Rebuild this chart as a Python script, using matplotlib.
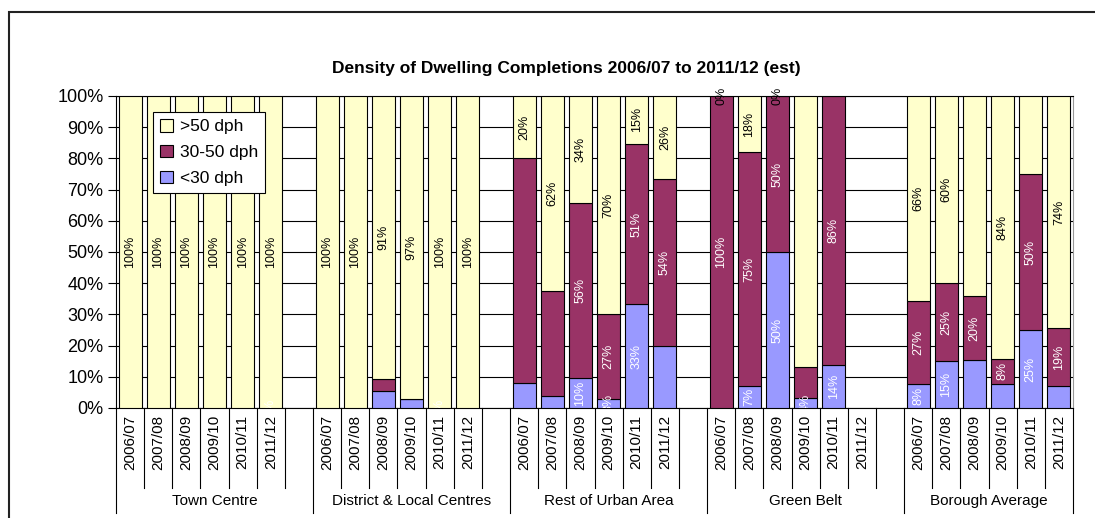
import matplotlib
matplotlib.use("Agg")
import matplotlib.pyplot as plt
import matplotlib.transforms as mtransforms
from matplotlib.patches import Rectangle, Patch

plt.rcParams['font.family'] = ['Liberation Sans', 'DejaVu Sans']

years = ["2006/07", "2007/08", "2008/09", "2009/10", "2010/11", "2011/12"]
groups = ["Town Centre", "District & Local Centres", "Rest of Urban Area",
          "Green Belt", "Borough Average"]

# <30 dph, 30-50 dph, >50 dph (percent), one row per group
lt30 = [
    [0, 0, 0, 0, 0, 0],
    [0, 0, 5.3, 3, 0, 0],
    [8.1, 3.7, 9.6, 3, 33.2, 19.8],
    [0, 7.1, 50, 3.3, 13.9, 0],
    [7.6, 15, 15.3, 7.8, 24.9, 6.9],
]
mid = [
    [0, 0, 0, 0, 0, 0],
    [0, 0, 3.9, 0, 0, 0],
    [72.1, 33.7, 56.1, 27.2, 51.5, 53.7],
    [100, 74.9, 50, 9.8, 86.1, 0],
    [26.7, 25, 20.5, 8, 50.2, 18.8],
]
gt50 = [
    [100, 100, 100, 100, 100, 100],
    [100, 100, 90.8, 97, 100, 100],
    [19.8, 62.6, 34.3, 69.8, 15.3, 26.5],
    [0, 18, 0, 86.9, 0, 0],
    [65.7, 60, 64.2, 84.2, 24.9, 74.3],
]

lab_lt30 = [
    ["", "", "", "", "", "0%"],
    ["", "", "", "", "0%", ""],
    ["", "", "10%", "3%", "33%", ""],
    ["", "7%", "50%", "4%", "14%", ""],
    ["8%", "15%", "", "", "25%", ""],
]
lab_mid = [
    ["", "", "", "", "", ""],
    ["", "", "", "", "", ""],
    ["", "", "56%", "27%", "51%", "54%"],
    ["100%", "75%", "50%", "", "86%", ""],
    ["27%", "25%", "20%", "8%", "50%", "19%"],
]
lab_gt50 = [
    ["100%"] * 6,
    ["100%", "100%", "91%", "97%", "100%", "100%"],
    ["20%", "62%", "34%", "70%", "15%", "26%"],
    ["0%", "18%", "0%", "", "", ""],
    ["66%", "60%", "", "84%", "", "74%"],
]

c_lt30 = "#9999FF"
c_mid = "#993366"
c_gt50 = "#FFFFCC"

W, H = 1095, 518
fig = plt.figure(figsize=(W / 100, H / 100), dpi=100)
ax = fig.add_axes([116 / W, 1 - 408 / H, (1073 - 116) / W, (408 - 96) / H])

# outer chart frame (clipped by the image edges)
fig.patches.append(Rectangle((9 / W, -0.1), 1.2, 1 - 12 / H + 0.1,
                             transform=fig.transFigure, fill=False,
                             ec="#222222", lw=1.5))
# clipped heading above the frame
fig.text(10 / W, 1 + 5 / H, "Density of Dwelling Housing", fontsize=18,
         fontweight="bold", va="baseline", ha="left")

fig.text(566 / W, 1 - 68 / H,
         "Density of Dwelling Completions 2006/07 to 2011/12 (est)",
         fontsize=12.5, fontweight="bold", ha="center", va="center")

bw = 0.82
centers = []
for g in range(len(groups)):
    for j in range(len(years)):
        x = 7 * g + j + 0.5
        centers.append(x)
        a, b, c = lt30[g][j], mid[g][j], gt50[g][j]
        if g == 3 and j == 5:
            continue
        ax.bar(x, a, bw, color=c_lt30, edgecolor="black", lw=0.8, zorder=3)
        ax.bar(x, b, bw, bottom=a, color=c_mid, edgecolor="black", lw=0.8, zorder=3)
        ax.bar(x, c, bw, bottom=a + b, color=c_gt50, edgecolor="black", lw=0.8, zorder=3)
        for val, base, lab, col in ((a, 0, lab_lt30[g][j], "white"),
                                    (b, a, lab_mid[g][j], "white"),
                                    (c, a + b, lab_gt50[g][j], "black")):
            if lab:
                ax.text(x, base + val / 2, lab, rotation=90, ha="center",
                        va="center", fontsize=9, color=col, zorder=5,
                        clip_on=(col == "white"))

ax.set_xlim(0, 34)
ax.set_ylim(0, 100)
ax.set_yticks(range(0, 101, 10))
ax.set_yticklabels([f"{v}%" for v in range(0, 101, 10)], fontsize=13)
ax.set_xticks(centers)
ax.set_xticklabels(years * len(groups), rotation=90, fontsize=11)
ax.tick_params(axis="x", length=0, pad=5)
ax.tick_params(axis="y", direction="out", length=6, width=0.8, pad=3)
ax.yaxis.grid(True, color="black", lw=0.8)
ax.set_axisbelow(True)
for s in ("left", "bottom", "top"):
    ax.spines[s].set_color("black")
    ax.spines[s].set_linewidth(0.8)
ax.spines["right"].set_color("#999999")

# category separators below the axis
tr = mtransforms.blended_transform_factory(ax.transData, ax.transAxes)
for g in range(len(groups)):
    for k in range(1, 7):
        xb = 7 * g + k
        if xb >= 34:
            continue
        ax.plot([xb, xb], [0, -0.256], color="black", lw=0.8,
                transform=tr, clip_on=False)
for xb in (0, 7, 14, 21, 28, 34):
    ax.plot([xb, xb], [0, -0.335], color="black", lw=0.8,
            transform=tr, clip_on=False)
for g, name in enumerate(groups):
    end = min(7 * g + 7, 34)
    ax.text((7 * g + end) / 2, -0.297, name, transform=tr, ha="center",
            va="center", fontsize=11)

handles = [Patch(fc=c_gt50, ec="black", lw=0.8, label=">50 dph"),
           Patch(fc=c_mid, ec="black", lw=0.8, label="30-50 dph"),
           Patch(fc=c_lt30, ec="black", lw=0.8, label="<30 dph")]
leg = fig.legend(handles=handles, loc="upper left",
                 bbox_to_anchor=(153 / W, 1 - 112 / H), fontsize=12.5,
                 frameon=True, fancybox=False, framealpha=1,
                 edgecolor="black", handlelength=0.75, handleheight=0.75,
                 handletextpad=0.4, borderpad=0.4, labelspacing=0.6,
                 borderaxespad=0)
leg.get_frame().set_linewidth(0.8)
leg.set_zorder(10)

fig.savefig("out.png", dpi=100)
